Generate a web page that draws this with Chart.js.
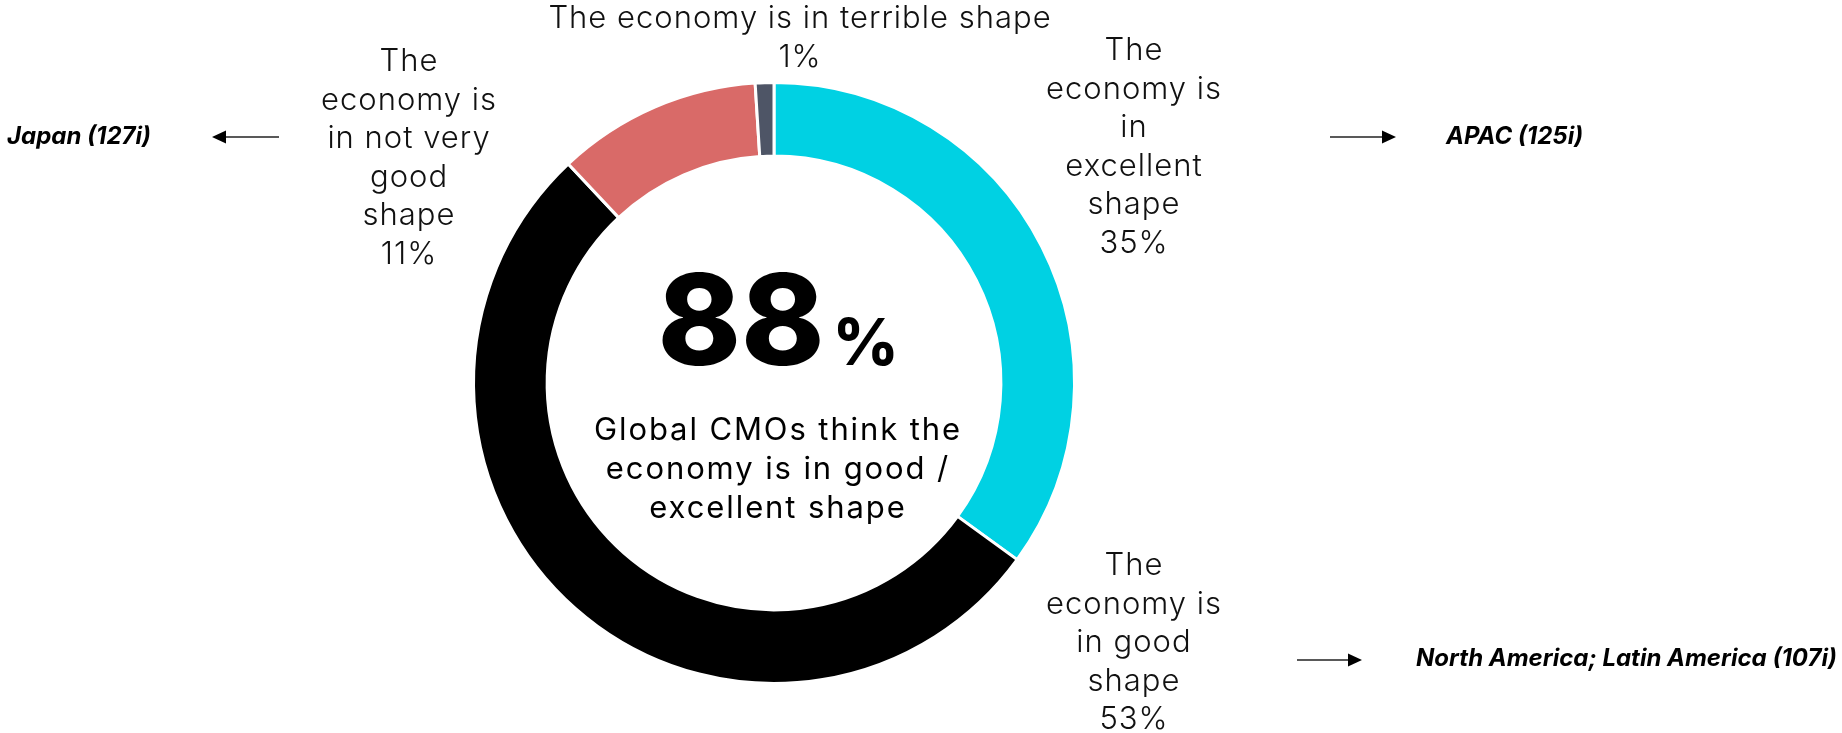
<!DOCTYPE html>
<html>
<head>
<meta charset="utf-8">
<script src="https://cdn.jsdelivr.net/npm/chart.js@4.4.1/dist/chart.umd.min.js"></script>
<style>
  html, body { margin: 0; padding: 0; background: #ffffff; }
  #wrap { width: 1842px; height: 733px; position: relative; }
</style>
</head>
<body>
<div id="wrap"><canvas id="chart" width="1842" height="733"></canvas></div>
<script>
// Survey answers, in drawing order (clockwise from 12 o'clock)
const categories = [
  'The economy is in excellent shape',
  'The economy is in good shape',
  'The economy is in not very good shape',
  'The economy is in terrible shape'
];
const shares = [35, 53, 11, 1];
const sliceColors = ['#00d1e3', '#000000', '#d96a68', '#4e5566'];

// Category captions broken into display lines
const captionLines = [
  ['The', 'economy is', 'in', 'excellent', 'shape'],
  ['The', 'economy is', 'in good', 'shape'],
  ['The', 'economy is', 'in not very', 'good', 'shape'],
  ['The economy is in terrible shape']
];

// Headline in the hole
const headlineValue = 88;
const headlineLines = ['Global CMOs think the', 'economy is in good /', 'excellent shape'];

// Regional call-outs
const regionNotes = ['Japan (127i)', 'APAC (125i)', 'North America; Latin America (107i)'];

const LABEL_FONT = '300 31px Inter, "Noto Sans", sans-serif';
const LINE_H = 38.5;

// Where each caption block sits, relative to the ring centre (first line centre)
const captionPlacement = [
  { dx: 360, dy: -332 },
  { dx: 360, dy: 183 },
  { dx: -365, dy: -321 },
  { dx: 26, dy: -364 }
];

function drawArrow(ctx, x1, x2, y) {
  // shaft from x1 to x2, head at x2
  const dir = Math.sign(x2 - x1);
  ctx.save();
  ctx.strokeStyle = '#222';
  ctx.fillStyle = '#000';
  ctx.lineWidth = 1.6;
  ctx.beginPath();
  ctx.moveTo(x1, y);
  ctx.lineTo(x2 - dir * 12, y);
  ctx.stroke();
  ctx.beginPath();
  ctx.moveTo(x2, y);
  ctx.lineTo(x2 - dir * 14, y - 6.5);
  ctx.lineTo(x2 - dir * 14, y + 6.5);
  ctx.closePath();
  ctx.fill();
  ctx.restore();
}

const annotations = {
  id: 'annotations',
  afterDraw(chart) {
    const ctx = chart.ctx;
    const arc = chart.getDatasetMeta(0).data[0];
    const cx = arc.x, cy = arc.y;

    ctx.save();
    ctx.fillStyle = '#111';
    ctx.textAlign = 'center';
    ctx.textBaseline = 'middle';
    ctx.font = LABEL_FONT;
    ctx.letterSpacing = '1px';

    // category captions with their shares
    captionLines.forEach((lines, i) => {
      const p = captionPlacement[i];
      const rows = lines.concat([shares[i] + '%']);
      rows.forEach((t, k) => {
        ctx.fillText(t, cx + p.dx, cy + p.dy + k * LINE_H);
      });
    });

    // centre headline
    ctx.letterSpacing = '0px';
    ctx.fillStyle = '#000';
    ctx.textBaseline = 'alphabetic';
    const big = '800 126px Inter, "Noto Sans", sans-serif';
    const pct = '800 64px Inter, "Noto Sans", sans-serif';
    ctx.font = big;
    const numText = String(headlineValue);
    const wNum = ctx.measureText(numText).width;
    ctx.font = pct;
    const wPct = ctx.measureText('%').width;
    const gap = 8;
    const startX = cx + 4 - (wNum + gap + wPct) / 2;
    ctx.textAlign = 'left';
    ctx.font = big;
    ctx.fillText(numText, startX, cy - 18);
    ctx.font = pct;
    ctx.fillText('%', startX + wNum + gap, cy - 18);

    ctx.textAlign = 'center';
    ctx.font = '400 31px Inter, "Noto Sans", sans-serif';
    ctx.letterSpacing = '1.9px';
    headlineLines.forEach((t, k) => {
      ctx.fillText(t, cx + 4, cy + 57 + k * 39);
    });

    // regional call-outs
    ctx.letterSpacing = '0px';
    ctx.font = 'italic 700 24px Inter, "Noto Sans", sans-serif';
    ctx.textBaseline = 'middle';
    ctx.textAlign = 'left';
    ctx.fillText(regionNotes[0], 7, cy - 246);
    drawArrow(ctx, 279, 212, cy - 246);
    ctx.fillText(regionNotes[1], 1446, cy - 246);
    drawArrow(ctx, 1330, 1396, cy - 246);
    ctx.fillText(regionNotes[2], 1416, cy + 276);
    drawArrow(ctx, 1297, 1362, cy + 277);
    ctx.restore();
  }
};

new Chart(document.getElementById('chart'), {
  type: 'doughnut',
  data: {
    labels: categories,
    datasets: [{
      data: shares,
      backgroundColor: sliceColors,
      borderColor: '#ffffff',
      borderWidth: 3,
      hoverOffset: 0
    }]
  },
  options: {
    responsive: false,
    animation: false,
    cutout: '75.5%',
    rotation: 0,
    layout: { padding: { left: 472, right: 766, top: 81, bottom: 48 } },
    plugins: {
      legend: { display: false },
      tooltip: { enabled: false },
      title: { display: false }
    }
  },
  plugins: [annotations]
});
</script>
</body>
</html>
